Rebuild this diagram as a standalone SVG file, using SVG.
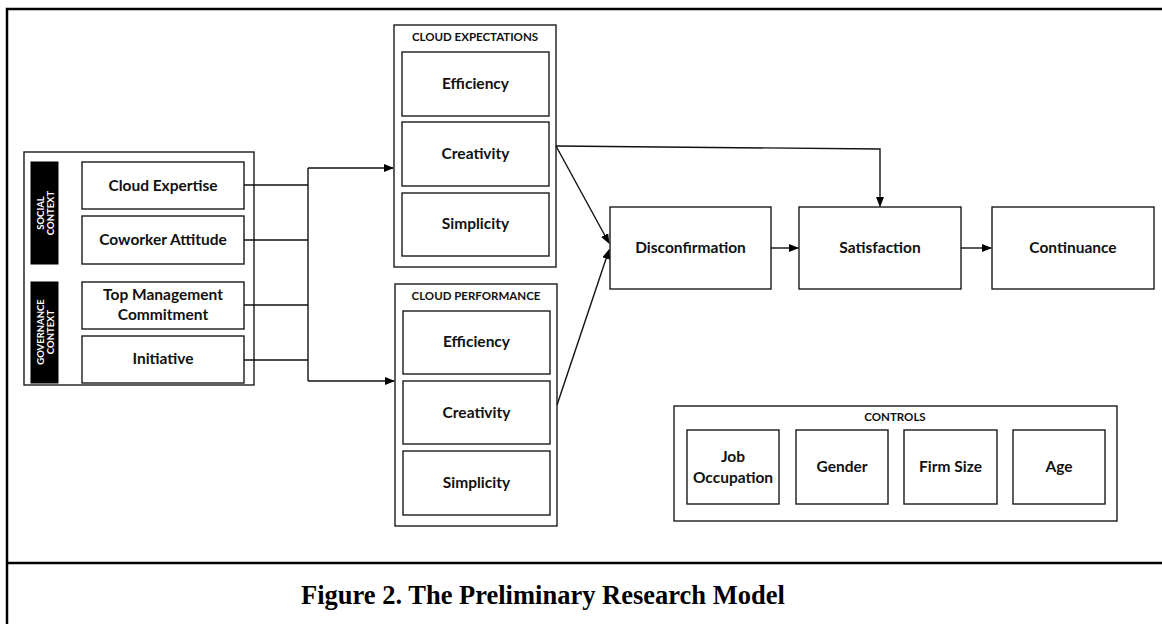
<svg xmlns="http://www.w3.org/2000/svg" width="1162" height="624" viewBox="0 0 1162 624">
<defs>
<marker id="arr" markerWidth="10" markerHeight="8" refX="9" refY="4" orient="auto" markerUnits="userSpaceOnUse">
<path d="M0,0 L10,4 L0,8 Z" fill="#000"/>
</marker>
<style>
.box{fill:#fff;stroke:#1a1a1a;stroke-width:1.4}
.grp{fill:#fff;stroke:#1a1a1a;stroke-width:1.4}
.blk{fill:#000;stroke:#000}
.t{font-family:Lato,"Open Sans",sans-serif;font-weight:bold;font-size:15.5px;fill:#111;text-anchor:middle}
.h{font-family:Lato,"Open Sans",sans-serif;font-weight:bold;font-size:11.5px;fill:#111;text-anchor:middle}
.w{font-family:Lato,"Open Sans",sans-serif;font-weight:bold;font-size:9.5px;fill:#fff;text-anchor:middle}
.c{fill:none;stroke:#111;stroke-width:1.4}
</style>
</defs>
<rect x="0" y="0" width="1162" height="624" fill="#fff"/>
<g id="frame">
<path d="M7,624 L7,9 L1170,9" fill="none" stroke="#000" stroke-width="2.5"/>
<line x1="7" y1="563" x2="1162" y2="563" stroke="#000" stroke-width="2.5"/>
</g>
<g id="antecedents">
<rect class="grp" x="24" y="152" width="230" height="233"/>
<rect class="blk" x="31" y="162" width="27" height="102"/>
<rect class="blk" x="31" y="282" width="27" height="101"/>
<text class="w" transform="translate(44.5,213) rotate(-90)"><tspan x="0" y="-1">SOCIAL</tspan><tspan x="0" y="9">CONTEXT</tspan></text>
<text class="w" transform="translate(44.5,332) rotate(-90)"><tspan x="0" y="-1">GOVERNANCE</tspan><tspan x="0" y="9">CONTEXT</tspan></text>
</g>
<g id="cloud-expertise"><rect class="box" x="82" y="162" width="162" height="47"/><text class="t" x="163" y="191">Cloud Expertise</text></g>
<g id="coworker-attitude"><rect class="box" x="82" y="216" width="162" height="48"/><text class="t" x="163" y="245">Coworker Attitude</text></g>
<g id="top-management"><rect class="box" x="82" y="282" width="162" height="47"/><text class="t" x="163" y="300">Top Management</text><text class="t" x="163" y="320">Commitment</text></g>
<g id="initiative"><rect class="box" x="82" y="336" width="162" height="47"/><text class="t" x="163" y="364">Initiative</text></g>
<g id="cloud-expectations">
<rect class="grp" x="394" y="25" width="162" height="242"/>
<text class="h" x="475" y="41">CLOUD EXPECTATIONS</text>
<rect class="box" x="402" y="52" width="147" height="64"/><text class="t" x="475.5" y="89">Efficiency</text>
<rect class="box" x="402" y="122" width="147" height="64"/><text class="t" x="475.5" y="159">Creativity</text>
<rect class="box" x="402" y="193" width="147" height="63"/><text class="t" x="475.5" y="229">Simplicity</text>
</g>
<g id="cloud-performance">
<rect class="grp" x="395" y="284" width="162" height="242"/>
<text class="h" x="476" y="300">CLOUD PERFORMANCE</text>
<rect class="box" x="403" y="311" width="147" height="63"/><text class="t" x="476.5" y="347">Efficiency</text>
<rect class="box" x="403" y="381" width="147" height="63"/><text class="t" x="476.5" y="418">Creativity</text>
<rect class="box" x="403" y="451" width="147" height="64"/><text class="t" x="476.5" y="488">Simplicity</text>
</g>
<g id="disconfirmation"><rect class="box" x="610" y="207" width="161" height="82"/><text class="t" x="690.5" y="253">Disconfirmation</text></g>
<g id="satisfaction"><rect class="box" x="799" y="207" width="162" height="82"/><text class="t" x="880" y="253">Satisfaction</text></g>
<g id="continuance"><rect class="box" x="992" y="207" width="162" height="82"/><text class="t" x="1073" y="253">Continuance</text></g>
<g id="controls">
<rect class="grp" x="674" y="406" width="443" height="115"/>
<text class="h" x="895" y="421">CONTROLS</text>
<rect class="box" x="687" y="430" width="92" height="74"/><text class="t" x="733" y="462">Job</text><text class="t" x="733" y="483">Occupation</text>
<rect class="box" x="796" y="430" width="92" height="74"/><text class="t" x="842" y="472">Gender</text>
<rect class="box" x="904" y="430" width="93" height="74"/><text class="t" x="950.5" y="472">Firm Size</text>
<rect class="box" x="1013" y="430" width="92" height="74"/><text class="t" x="1059" y="472">Age</text>
</g>
<g id="connectors">
<line class="c" x1="244" y1="185" x2="308" y2="185"/>
<line class="c" x1="244" y1="240" x2="308" y2="240"/>
<line class="c" x1="244" y1="305" x2="308" y2="305"/>
<line class="c" x1="244" y1="360" x2="308" y2="360"/>
<line class="c" x1="308" y1="168" x2="308" y2="381"/>
<line class="c" x1="308" y1="168" x2="393" y2="168" marker-end="url(#arr)"/>
<line class="c" x1="308" y1="381" x2="394" y2="381" marker-end="url(#arr)"/>
<polyline class="c" points="556,146 880,149 880,206" marker-end="url(#arr)"/>
<line class="c" x1="556" y1="146" x2="609" y2="243" marker-end="url(#arr)"/>
<line class="c" x1="557" y1="405" x2="609" y2="250" marker-end="url(#arr)"/>
<line class="c" x1="771" y1="248" x2="798" y2="248" marker-end="url(#arr)"/>
<line class="c" x1="961" y1="248" x2="991" y2="248" marker-end="url(#arr)"/>
</g>
<text x="301" y="604" font-family="Liberation Serif,serif" font-weight="bold" font-size="26.5" fill="#000">Figure 2. The Preliminary Research Model</text>
</svg>
